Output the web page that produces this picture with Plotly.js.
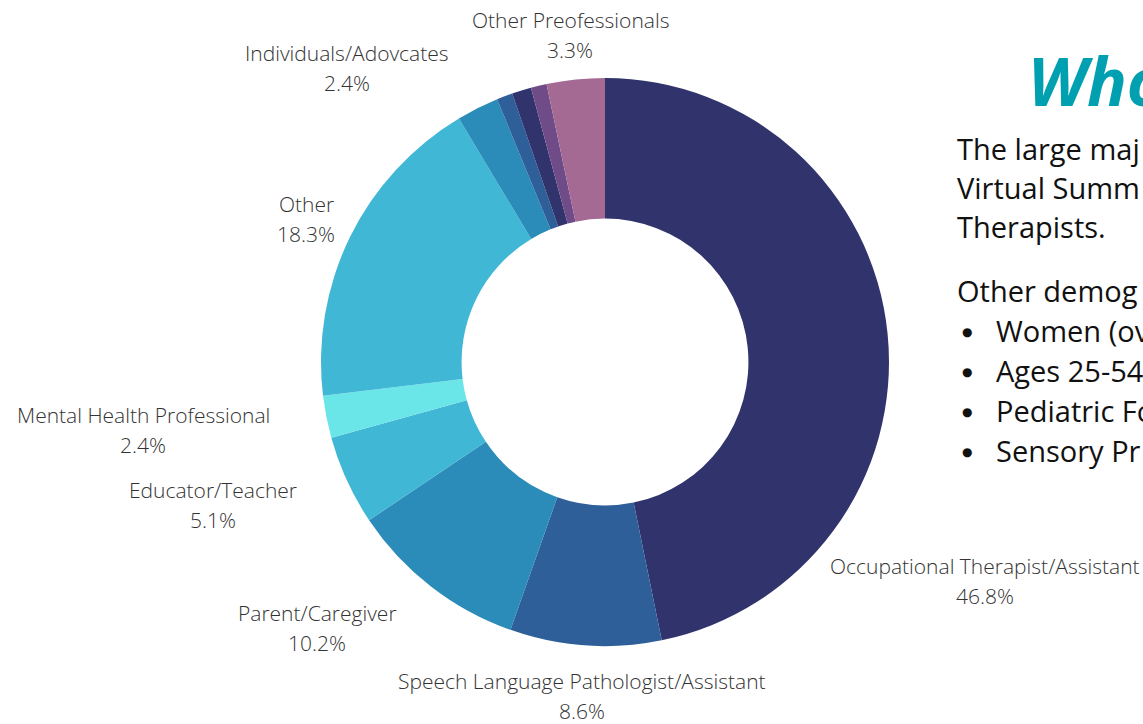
<!DOCTYPE html>
<html>
<head>
<meta charset="utf-8">
<script src="https://cdn.plot.ly/plotly-3.0.1.min.js"></script>
<style>
  html, body { margin: 0; padding: 0; background: #ffffff; overflow: hidden; }
  #chart { width: 1143px; height: 724px; }
</style>
</head>
<body>
<div id="chart"></div>
<script>
// ---- data ----
const categories = [
  "Occupational Therapist/Assistant",
  "Speech Language Pathologist/Assistant",
  "Parent/Caregiver",
  "Educator/Teacher",
  "Mental Health Professional",
  "Other",
  "Individuals/Adovcates",
  "(unlabeled A)",
  "(unlabeled B)",
  "(unlabeled C)",
  "Other Preofessionals"
];
const shares = [46.8, 8.6, 10.2, 5.1, 2.4, 18.3, 2.4, 0.9, 1.1, 0.9, 3.3];
const showLabel = [true, true, true, true, true, true, true, false, false, false, true];

// slide text, as far as it is visible in the (cropped) reference
const titleText = "Who";
const bodyLines = ["The large maj", "Virtual Summ", "Therapists."];
const demoIntro = "Other demog";
const bullets = ["Women (ov", "Ages 25-54", "Pediatric Fo", "Sensory Pr"];

// ---- styles / positions ----
const sliceColors = ["#31346C", "#2E5F99", "#2B8BB9", "#41B7D6", "#6BE6E8", "#41B7D6",
                     "#2B8BB9", "#2E5F99", "#31346C", "#6F4C87", "#A46A93"];
// label block centres in page pixels (name line, percent line follows below)
const labelPos = {
  0: [985, 566], 1: [582, 681], 2: [317, 613], 3: [213, 490],
  4: [143, 415], 5: [306, 204], 6: [347, 53], 10: [570, 20]
};
const W = 1143, H = 724;
const px = x => x / W, py = y => 1 - y / H;

const labelFont = {family: "Open Sans, sans-serif", size: 21, color: "#333333", weight: 300};
const annotations = [];
categories.forEach((c, i) => {
  if (!showLabel[i]) return;
  const p = labelPos[i];
  annotations.push({xref: "paper", yref: "paper", x: px(p[0]), y: py(p[1]), xanchor: "center", yanchor: "middle",
    text: c, showarrow: false, font: labelFont});
  annotations.push({xref: "paper", yref: "paper", x: px(p[0]), y: py(p[1] + 30), xanchor: "center", yanchor: "middle",
    text: shares[i].toFixed(1) + "%", showarrow: false, font: labelFont});
});

// right-hand slide text
annotations.push({xref: "paper", yref: "paper", x: px(1026), y: py(80), xanchor: "left", yanchor: "middle",
  text: "<b><i>" + titleText + "</i></b>", showarrow: false,
  font: {family: "Open Sans, sans-serif", size: 66, color: "#00A0B0"}});
const bodyFont = {family: "Open Sans, sans-serif", size: 29, color: "#111111"};
bodyLines.forEach((t, k) => {
  annotations.push({xref: "paper", yref: "paper", x: px(955), y: py(148 + 39 * k), xanchor: "left", yanchor: "middle",
    text: t, showarrow: false, font: bodyFont});
});
annotations.push({xref: "paper", yref: "paper", x: px(955), y: py(290), xanchor: "left", yanchor: "middle",
  text: demoIntro, showarrow: false, font: bodyFont});
bullets.forEach((t, k) => {
  annotations.push({xref: "paper", yref: "paper", x: px(967), y: py(332 + 40 * k), xanchor: "center", yanchor: "middle",
    text: "●", showarrow: false, font: {family: "DejaVu Sans, sans-serif", size: 12, color: "#111111"}});
  annotations.push({xref: "paper", yref: "paper", x: px(994), y: py(330 + 40 * k), xanchor: "left", yanchor: "middle",
    text: t, showarrow: false, font: bodyFont});
});

const trace = {
  type: "pie",
  labels: categories,
  values: shares,
  sort: false,
  direction: "clockwise",
  rotation: 0,
  hole: 0.505,
  textinfo: "none",
  marker: {colors: sliceColors, line: {width: 0}},
  domain: {x: [321 / W, 889 / W], y: [78 / H, 646 / H]},
  showlegend: false
};

const layout = {
  width: W, height: H,
  margin: {l: 0, r: 0, t: 0, b: 0},
  paper_bgcolor: "#ffffff",
  showlegend: false,
  annotations: annotations
};

Plotly.newPlot("chart", [trace], layout, {displayModeBar: false, staticPlot: true});
</script>
</body>
</html>
